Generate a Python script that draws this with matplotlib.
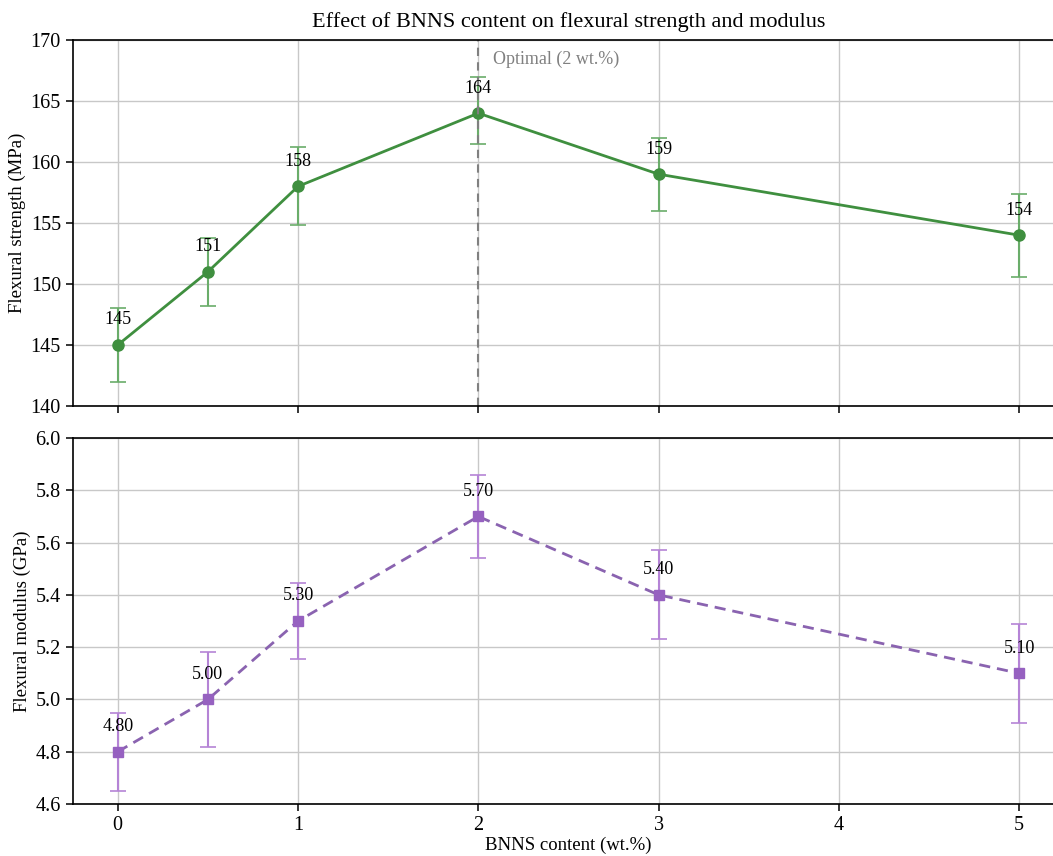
import matplotlib
matplotlib.use("Agg")
import matplotlib.pyplot as plt
import numpy as np

plt.rcParams['font.family'] = ['Liberation Serif', 'DejaVu Serif']
plt.rcParams['mathtext.fontset'] = 'stix'

# data
content = [0, 0.5, 1, 2, 3, 5]
strength = [145, 151, 158, 164, 159, 154]
strength_err_lo = [3.0, 2.8, 3.2, 2.5, 3.0, 3.4]
strength_err_hi = [3.0, 2.8, 3.2, 3.0, 3.0, 3.4]
modulus = [4.80, 5.00, 5.30, 5.70, 5.40, 5.10]
modulus_err = [0.15, 0.18, 0.145, 0.16, 0.17, 0.19]
xticks = [0, 1, 2, 3, 4, 5]
strength_ticks = [140, 145, 150, 155, 160, 165, 170]
modulus_ticks = [4.6, 4.8, 5.0, 5.2, 5.4, 5.6, 5.8, 6.0]
optimal = 2

green = '#3f8f3f'
green_err = '#6aad6a'
purple_line = '#8a63b0'
purple = '#9661c0'
purple_err = '#b584d6'

fig = plt.figure(figsize=(10.53, 8.56), dpi=100)
# axes run slightly past the right edge, like the cropped original
ax1 = fig.add_axes([0.0690, 0.5257, 0.9417, 0.4276])
ax2 = fig.add_axes([0.0690, 0.0607, 0.9417, 0.4276], sharex=ax1)

for ax in (ax1, ax2):
    ax.grid(True, color='#c8c8c8', lw=1.0)
    ax.set_axisbelow(True)
    for s in ax.spines.values():
        s.set_color('black')
        s.set_linewidth(1.2)
    ax.tick_params(labelsize=14.5, direction='out', length=5, width=1.1)

# top: flexural strength
ax1.errorbar(content, strength, yerr=[strength_err_lo, strength_err_hi],
             fmt='none', ecolor=green_err, elinewidth=1.5, capsize=6, capthick=1.2)
ax1.plot(content, strength, '-o', color=green, lw=2, ms=8)
for x, y in zip(content, strength):
    ax1.annotate('%d' % y, (x, y), xytext=(0, 12), textcoords='offset points',
                 ha='center', va='bottom', fontsize=13)
ax1.axvline(optimal, color='#808080', ls='--', lw=1.5, dashes=(4, 3))
ax1.text(optimal + 0.08, 168.4, 'Optimal (2 wt.%)', color='#808080',
         fontsize=13, ha='left', va='center')
ax1.set_ylim(140, 170)
ax1.set_yticks(strength_ticks)
ax1.set_ylabel('Flexural strength (MPa)', fontsize=13.5, labelpad=3)
ax1.set_title('Effect of BNNS content on flexural strength and modulus',
              fontsize=16, pad=9)
ax1.tick_params(labelbottom=False)

# bottom: flexural modulus
ax2.errorbar(content, modulus, yerr=modulus_err, fmt='none', ecolor=purple_err,
             elinewidth=1.5, capsize=6, capthick=1.2)
ax2.plot(content, modulus, '--s', color=purple_line, lw=2, ms=7,
         mfc=purple, mec=purple, dashes=(4, 2.5))
for x, y in zip(content, modulus):
    ax2.annotate('%.2f' % y, (x, y), xytext=(0, 12), textcoords='offset points',
                 ha='center', va='bottom', fontsize=13)
ax2.set_ylim(4.6, 6.0)
ax2.set_yticks(modulus_ticks)
ax2.set_yticklabels(['%.1f' % t for t in modulus_ticks])
ax2.set_ylabel('Flexural modulus (GPa)', fontsize=13.5, labelpad=3)
ax2.set_xlabel('BNNS content (wt.%)', fontsize=13.5, labelpad=1)

ax2.set_xlim(-0.25, 5.25)
ax2.set_xticks(xticks)

fig.savefig('out.png', dpi=100)
